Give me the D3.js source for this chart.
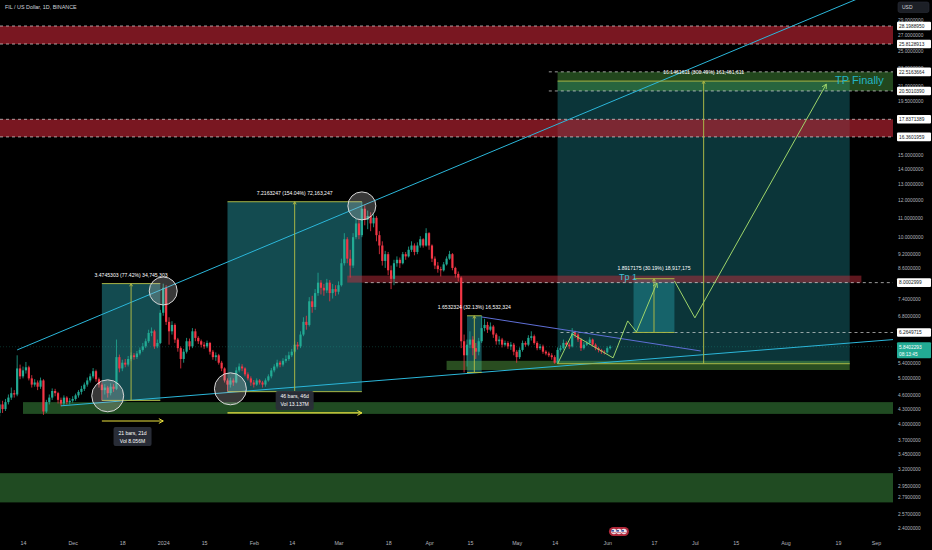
<!DOCTYPE html>
<html><head><meta charset="utf-8">
<script src="https://cdn.jsdelivr.net/npm/d3@7"></script>
<style>
html,body{margin:0;padding:0;background:#000;}
svg{display:block;}
text{font-family:"Liberation Sans", Arial, sans-serif;}
</style></head><body>
<svg id="c" width="932" height="550"></svg>
<script>
// ---------------- DATA ----------------
const title = "FIL / US Dollar, 1D, BINANCE";
const candleStart = "2023-11-06";
const firstOpen = 4.22;
const closes = [
 4.40,4.30,4.45,4.55,4.65,4.62,5.25,5.05,5.20,5.28,5.00,4.85,4.90,4.80,4.95,4.25,4.45,4.55,4.70,4.65,4.50,4.42,4.55,4.45,4.48,
 4.52,4.60,4.68,4.75,4.85,4.95,5.05,5.18,4.98,4.85,4.72,4.78,4.65,4.80,4.75,5.55,5.25,5.40,5.35,5.50,5.60,5.55,5.65,5.75,5.85,6.00,6.25,6.30,5.85,5.95,6.90,
 7.80,6.60,6.30,6.50,6.05,5.80,5.50,5.70,6.00,5.85,6.30,6.10,6.00,5.90,5.85,5.95,5.70,5.55,5.60,5.40,5.25,4.95,4.85,4.95,4.90,5.20,5.30,5.25,5.10,5.00,4.90,
 4.85,4.95,4.90,4.85,4.95,5.05,5.20,5.30,5.40,5.35,5.45,5.50,5.60,5.70,5.90,5.85,6.20,6.60,6.50,7.30,7.10,7.60,8.00,7.80,7.70,8.00,7.60,7.75,7.65,
 7.90,8.80,9.90,9.00,8.70,10.00,10.70,10.10,11.50,10.90,11.10,10.70,11.00,10.10,9.60,8.90,9.20,8.50,8.15,8.80,8.95,8.80,9.20,9.10,9.40,9.60,9.30,9.60,9.90,9.60,10.20,
 9.60,9.00,8.70,8.55,8.50,8.75,9.00,9.20,8.60,8.35,8.20,6.00,5.60,5.90,6.05,5.80,5.70,6.00,6.40,6.50,6.35,6.45,6.20,6.00,6.05,5.90,5.95,5.85,5.90,5.70,
 5.55,5.75,5.95,5.90,6.10,6.15,5.95,5.80,5.85,5.70,5.65,5.60,5.55,5.40,5.75,5.80,5.95,5.90,5.85,6.25,6.20,6.05,5.80,5.90,5.95,6.05,5.90,5.80,5.75,5.70,5.68,
 5.80,5.84];
const highs = [
 4.50,4.48,4.52,4.62,4.78,4.72,5.60,5.35,5.30,5.42,5.32,5.08,4.98,4.95,5.02,4.98,4.50,4.62,4.76,4.75,4.68,4.55,4.60,4.58,4.54,
 4.58,4.64,4.72,4.82,4.90,5.02,5.12,5.26,5.22,5.02,4.90,4.86,4.82,4.88,4.86,6.05,5.62,5.48,5.50,5.58,5.68,5.66,5.72,5.82,5.95,6.08,6.35,6.42,6.35,6.05,7.00,
 7.96,7.90,6.75,6.62,6.55,6.10,5.85,5.78,6.10,6.08,6.40,6.38,6.15,6.05,5.98,6.02,5.98,5.75,5.68,5.64,5.45,5.28,5.00,5.02,5.00,5.28,5.38,5.36,5.28,5.15,5.05,
 4.96,5.00,4.98,4.94,5.00,5.10,5.26,5.36,5.48,5.45,5.52,5.60,5.70,5.78,6.00,5.98,6.30,6.75,6.80,7.45,7.50,7.75,8.40,8.10,7.95,8.15,8.10,7.95,7.90,
 8.05,9.00,10.20,10.00,9.40,10.20,10.95,10.90,11.90,11.70,11.40,11.30,11.20,11.10,10.30,9.80,9.35,9.30,8.70,8.95,9.10,9.05,9.30,9.30,9.55,9.80,9.70,9.75,10.05,9.95,10.45,
 10.25,9.65,9.10,8.85,8.65,8.85,9.10,9.35,9.25,8.65,8.45,8.25,6.20,6.05,6.30,6.15,5.95,6.10,6.80,6.70,6.60,6.58,6.50,6.25,6.15,6.10,6.02,6.00,5.98,5.95,
 5.75,5.82,6.02,6.00,6.18,6.30,6.20,6.00,5.92,5.90,5.74,5.70,5.66,5.60,5.82,5.88,6.05,6.00,5.96,6.40,6.32,6.24,6.10,5.98,6.02,6.12,6.08,5.94,5.84,5.78,5.74,
 5.85,5.88];
const lows = [
 4.15,4.22,4.26,4.40,4.50,4.55,4.58,4.98,5.00,5.12,4.95,4.78,4.80,4.72,4.75,4.18,4.22,4.40,4.50,4.58,4.42,4.36,4.38,4.40,4.40,
 4.44,4.48,4.55,4.62,4.70,4.80,4.90,5.00,4.92,4.78,4.49,4.62,4.55,4.60,4.68,4.72,5.15,5.18,5.28,5.30,5.44,5.48,5.50,5.60,5.70,5.80,5.95,6.15,5.78,5.80,5.92,
 6.80,6.50,5.90,6.20,5.95,5.70,5.25,5.40,5.65,5.75,5.80,6.00,5.92,5.82,5.78,5.80,5.62,5.48,5.45,5.35,5.18,4.90,4.69,4.78,4.82,4.88,5.15,5.18,5.05,4.95,4.82,
 4.78,4.82,4.85,4.78,4.80,4.92,5.00,5.15,5.25,5.28,5.30,5.40,5.45,5.55,5.65,5.76,5.80,6.15,6.35,6.45,6.90,7.00,7.50,7.55,7.50,7.60,7.30,7.40,7.50,
 7.55,7.85,8.70,8.80,8.20,8.60,9.90,9.90,10.00,10.60,10.40,10.30,10.50,9.80,9.20,8.70,8.60,8.30,7.75,7.90,8.65,8.60,8.75,8.95,9.05,9.30,9.15,9.20,9.50,9.50,9.55,
 9.40,8.85,8.55,8.40,8.25,8.45,8.70,8.95,8.50,8.20,8.05,5.80,5.15,5.30,5.80,5.60,5.50,5.60,5.95,6.30,6.25,6.30,6.10,5.90,5.90,5.82,5.85,5.78,5.75,5.60,
 5.40,5.50,5.70,5.84,5.86,6.02,5.90,5.74,5.75,5.64,5.60,5.55,5.48,5.37,5.38,5.70,5.76,5.84,5.78,5.82,6.10,5.98,5.72,5.76,5.86,5.90,5.84,5.74,5.68,5.64,5.62,
 5.65,5.76];

const priceTicks = [29,27,25,23,21,19.5,15,14,13,12,11,10,9.2,8.6,7.4,6.8,5.4,5.0,4.6,4.3,4.0,3.7,3.45,3.2,2.95,2.79,2.57,2.4];
const dateTicks = [["2023-11-14","14"],["2023-12-01","Dec"],["2023-12-18","18"],["2024-01-01","2024"],["2024-01-15","15"],
 ["2024-02-01","Feb"],["2024-02-14","14"],["2024-03-01","Mar"],["2024-03-18","18"],["2024-04-01","Apr"],["2024-04-15","15"],
 ["2024-05-01","May"],["2024-05-14","14"],["2024-06-01","Jun"],["2024-06-17","17"],["2024-07-01","Jul"],["2024-07-15","15"],
 ["2024-08-01","Aug"],["2024-08-19","19"],["2024-09-01","Sep"]];
const levelLabels = [28.1988950,25.8128913,22.5163664,20.5010390,17.8371389,16.3601959,8.0002999,6.2649715];
const levelLineStarts = [null,null,"2024-05-12","2024-05-12",null,null,"2024-03-10","2024-05-16"];
const lastPrice = 5.8402293;
const countdown = "08:13:45";
const currency = "USD";

const redZones = [[28.1988950,25.8128913,null,null],[17.8371389,16.3601959,null,null],[8.28,8.0002999,"2024-03-04","2024-08-27"]];
const greenZones = [[5.45,5.21,"2024-04-07","2024-08-23"],[4.45,4.20,"2023-11-14",null],[3.14,2.72,null,null]];
const tpZone = [22.5163664,20.5010390,"2024-05-15",null];

const measureFrom = ["2023-12-11","2024-01-23","2024-04-14","2024-06-10","2024-05-15"];
const measureTo   = ["2023-12-31","2024-03-09","2024-04-19","2024-06-24","2024-08-23"];
const measureLow  = [4.4879,4.6847,5.1454,6.2649715,5.3733];
const measureHigh = [7.9624,11.9010,6.7986,8.1567,21.5195];
const measureText = ["3.4745303 (77.42%) 34,745,303","7.2163247 (154.04%) 72,163,247","1.6532324 (32.13%) 16,532,324",
                     "1.8917175 (30.19%) 18,917,175","16.1461611 (300.49%) 161,461,611"];

const rangeFrom = ["2023-12-11","2024-01-23"];
const rangeTo   = ["2024-01-01","2024-03-09"];
const rangePrice = [4.056,4.22];
const rangeLine1 = ["21 bars, 21d","46 bars, 46d"];
const rangeLine2 = ["Vol 8.056M","Vol 13.137M"];

const upperTrend = [["2023-11-12",5.75],["2024-03-09",11.66]];
const lowerTrend = [["2023-11-27",4.37],["2024-06-01",5.41]];
const descTrend  = [["2024-04-19",6.76],["2024-07-03",5.72]];
const circlePts  = [["2023-12-13",4.59],["2024-01-01",7.68],["2024-01-24",4.75],["2024-03-09",11.66]];
const projectionA = [["2024-05-15",5.37],["2024-05-20",6.22],["2024-06-03",5.53],["2024-06-08",6.63],["2024-06-11",6.28],["2024-06-18",7.99]];
const projectionB = [["2024-06-24",8.07],["2024-07-01",6.73],["2024-08-15",21.2]];
const noteTp1 = ["Tp 1","2024-06-05",8.1];
const noteTpFinal = ["TP Finally","2024-08-18",21.2];
const eventDate = "2024-06-05";

// ---------------- CHART ----------------
const svg = d3.select("#c");
const W = 932, H = 550, plotR = 893, plotB = 536;
const parse = d3.utcParse("%Y-%m-%d");
const DAY = 864e5;
const x = d3.scaleUtc().domain([parse("2023-11-14"), parse("2024-09-01")]).range([23, 876]);
const y = d3.scaleLog().domain([2.3064, 32.04]).range([plotB, 0]);
const X = s => s == null ? null : x(parse(s));

svg.append("rect").attr("width", W).attr("height", H).attr("fill", "#000");
svg.append("defs").append("clipPath").attr("id","clip").append("rect").attr("width", plotR).attr("height", plotB);
const g = svg.append("g").attr("clip-path","url(#clip)");

function zone(z, fill){
  const x0 = z[2] == null ? 0 : X(z[2]);
  const x1 = z[3] == null ? plotR : X(z[3]);
  g.append("rect").attr("x", x0).attr("width", x1 - x0)
    .attr("y", y(z[0])).attr("height", y(z[1]) - y(z[0])).attr("fill", fill);
}

// measure box fills
measureFrom.forEach((f,i)=>{
  const x0 = X(f), x1 = X(measureTo[i]);
  g.append("rect").attr("x", x0).attr("width", x1-x0)
    .attr("y", y(measureHigh[i])).attr("height", y(measureLow[i]) - y(measureHigh[i]))
    .attr("fill", i === 4 ? "rgba(30,140,150,0.38)" : "rgba(38,150,160,0.5)");
});

// zones
redZones.forEach((z,i)=> zone(z, i===2 ? "rgba(190,45,60,0.5)" : "rgba(178,34,48,0.68)"));
greenZones.forEach((z,i)=> zone(z, i===0 ? "rgba(90,170,70,0.45)" : "rgba(64,150,68,0.5)"));
zone(tpZone, "rgba(80,170,70,0.42)");

// current price line
g.append("line").attr("x1",0).attr("x2",plotR).attr("y1",y(lastPrice)).attr("y2",y(lastPrice))
  .attr("stroke","#22ab94").attr("stroke-opacity",0.35).attr("stroke-dasharray","1,2").attr("stroke-width",0.8);

// dashed level lines
levelLabels.forEach((v,i)=>{
  const x0 = levelLineStarts[i] ? X(levelLineStarts[i]) : 0;
  g.append("line").attr("x1",x0).attr("x2",plotR).attr("y1",y(v)).attr("y2",y(v))
    .attr("stroke","#e6e6e6").attr("stroke-width",0.8).attr("stroke-dasharray","3,3").attr("opacity",0.85);
});

// candles
const t0 = parse(candleStart);
const candles = closes.map((c,i)=>{
  const o = i ? closes[i-1] : firstOpen;
  return {d:new Date(+t0 + i*DAY), o, c, h:Math.max(highs[i],o,c), l:Math.min(lows[i],o,c)};
});
const cg = g.append("g");
candles.forEach(k=>{
  const col = k.c >= k.o ? "#22ab94" : "#f23645";
  const cx = x(k.d);
  cg.append("line").attr("x1",cx).attr("x2",cx).attr("y1",y(k.h)).attr("y2",y(k.l))
    .attr("stroke",col).attr("stroke-width",0.8);
  const top = y(Math.max(k.o,k.c)), bot = y(Math.min(k.o,k.c));
  cg.append("rect").attr("x",cx-1.1).attr("width",2.2).attr("y",top).attr("height",Math.max(0.8, bot-top)).attr("fill",col);
});

// trend lines
function ray(pts){
  const x1 = X(pts[0][0]), y1 = y(pts[0][1]), x2 = X(pts[1][0]), y2 = y(pts[1][1]);
  const s = (y2-y1)/(x2-x1);
  return [x1, y1, plotR+5, y1 + s*(plotR+5-x1)];
}
[upperTrend, lowerTrend].forEach(t=>{
  const r = ray(t);
  g.append("line").attr("x1",r[0]).attr("y1",r[1]).attr("x2",r[2]).attr("y2",r[3])
    .attr("stroke","#2bb7da").attr("stroke-width",1);
});
g.append("line").attr("x1",X(descTrend[0][0])).attr("y1",y(descTrend[0][1]))
  .attr("x2",X(descTrend[1][0])).attr("y2",y(descTrend[1][1]))
  .attr("stroke","#5f6fd6").attr("stroke-width",1);

// chevron helper
function chevron(sel, xa, ya, xb, yb, col, len){
  const a = Math.atan2(yb-ya, xb-xa);
  const p = [[xb - len*Math.cos(a-0.5), yb - len*Math.sin(a-0.5)],[xb,yb],[xb - len*Math.cos(a+0.5), yb - len*Math.sin(a+0.5)]];
  sel.append("path").attr("d", d3.line()(p)).attr("fill","none").attr("stroke",col).attr("stroke-width",1);
}

// measure borders, arrows, labels
const olive = "#a9b646";
measureFrom.forEach((f,i)=>{
  const x0 = X(f), x1 = X(measureTo[i]), xm = (x0+x1)/2;
  const yt = y(measureHigh[i]), yb = y(measureLow[i]);
  g.append("line").attr("x1",x0).attr("x2",x1).attr("y1",yt).attr("y2",yt).attr("stroke",olive).attr("stroke-width",1);
  g.append("line").attr("x1",x0).attr("x2",x1).attr("y1",yb).attr("y2",yb).attr("stroke",olive).attr("stroke-width",1);
  g.append("line").attr("x1",xm).attr("x2",xm).attr("y1",yb).attr("y2",yt).attr("stroke",olive).attr("stroke-width",1);
  chevron(g, xm, yb, xm, yt, olive, 3);
  g.append("text").attr("x",xm).attr("y",yt-(i===3 ? 9 : 7)).attr("text-anchor","middle")
    .attr("font-size",5.1).attr("fill","#ffffff").text(measureText[i]);
});

// notes
g.append("text").attr("x",X(noteTp1[1])).attr("y",y(noteTp1[2])).attr("font-size",9).attr("fill","#3cc0d6").text(noteTp1[0]);
g.append("text").attr("x",X(noteTpFinal[1])).attr("y",y(noteTpFinal[2])).attr("font-size",11).attr("fill","#24b4c4").text(noteTpFinal[0]);

// projections
const proj = d3.line().x(p=>X(p[0])).y(p=>y(p[1]));
[projectionA, projectionB].forEach(pr=>{
  g.append("path").attr("d", proj(pr)).attr("fill","none").attr("stroke","#9ed46a").attr("stroke-width",1);
  const a = pr[pr.length-2], b = pr[pr.length-1];
  chevron(g, X(a[0]), y(a[1]), X(b[0]), y(b[1]), "#9ed46a", 5);
});

// circles
circlePts.forEach((c,i)=>{
  g.append("circle").attr("cx",X(c[0])).attr("cy",y(c[1])).attr("r", (i%2===0) ? 16 : 14)
    .attr("fill","rgba(200,200,200,0.28)").attr("stroke","#d8d8d8").attr("stroke-width",1);
});

// date ranges
rangeFrom.forEach((f,i)=>{
  const x0 = X(f), x1 = X(rangeTo[i]), yy = y(rangePrice[i]), xm = (x0+x1)/2;
  g.append("line").attr("x1",x0).attr("x2",x1).attr("y1",yy).attr("y2",yy).attr("stroke","#ece23e").attr("stroke-width",1.2);
  chevron(g, x0, yy, x1, yy, "#ece23e", 5);
  const by = i===0 ? yy+6 : yy-22;
  g.append("rect").attr("x",xm-19).attr("y",by).attr("width",38).attr("height",19).attr("rx",2).attr("fill","rgba(42,46,57,0.95)");
  g.append("text").attr("x",xm).attr("y",by+7.5).attr("text-anchor","middle").attr("font-size",5.1).attr("fill","#fff").text(rangeLine1[i]);
  g.append("text").attr("x",xm).attr("y",by+15.5).attr("text-anchor","middle").attr("font-size",5.1).attr("fill","#fff").text(rangeLine2[i]);
});

// title
svg.append("text").attr("x",5).attr("y",9).attr("font-size",5.4).attr("fill","#d1d4dc").text(title);

// event marker
const ex = X(eventDate);
const ev = svg.append("g");
ev.append("rect").attr("x",ex-10).attr("y",527).attr("width",20).attr("height",9).attr("rx",4.5).attr("fill","#b0283a");
[-5,0,5].forEach(o=>{
  ev.append("circle").attr("cx",ex+o).attr("cy",531.5).attr("r",2.8).attr("fill","#e9e6ee");
  ev.append("rect").attr("x",ex+o-2.6).attr("y",530).attr("width",2.6).attr("height",1.6).attr("fill","#3c4f9a");
  ev.append("line").attr("x1",ex+o-2).attr("x2",ex+o+2.4).attr("y1",532.6).attr("y2",532.6).attr("stroke","#c83240").attr("stroke-width",0.6);
});

// axes
const ya = svg.append("g").attr("transform",`translate(${plotR},0)`)
  .call(d3.axisRight(y).tickValues(priceTicks).tickFormat(d=>d.toFixed(7)).tickSize(0).tickPadding(5));
ya.select(".domain").remove();
ya.selectAll("text").attr("font-size",4.8).attr("fill","#b2b5be").attr("font-family","Liberation Sans, Arial, sans-serif");

const xa = svg.append("g").attr("transform",`translate(0,${plotB})`)
  .call(d3.axisBottom(x).tickValues(dateTicks.map(d=>parse(d[0]))).tickFormat((d,i)=>dateTicks[i][1]).tickSize(0).tickPadding(5));
xa.select(".domain").remove();
xa.selectAll("text").attr("font-size",5.3).attr("fill","#b2b5be").attr("font-family","Liberation Sans, Arial, sans-serif");

// level labels on axis
levelLabels.forEach(v=>{
  const yy = y(v);
  svg.append("rect").attr("x",897).attr("y",yy-4.3).attr("width",34).attr("height",8.6).attr("rx",1).attr("fill","#ffffff");
  svg.append("text").attr("x",899).attr("y",yy+1.8).attr("font-size",4.8).attr("fill","#131722").text(v.toFixed(7));
});
// last price label
const ly = y(lastPrice);
svg.append("rect").attr("x",897).attr("y",ly-4.5).attr("width",34).attr("height",16).attr("rx",1).attr("fill","#22ab94");
svg.append("text").attr("x",899).attr("y",ly+1.8).attr("font-size",4.8).attr("fill","#fff").text(lastPrice.toFixed(7));
svg.append("text").attr("x",899).attr("y",ly+9).attr("font-size",4.8).attr("fill","#fff").text(countdown);

// currency button
svg.append("rect").attr("x",898).attr("y",2).attr("width",31).attr("height",10.5).attr("rx",2).attr("fill","#1c1f26").attr("stroke","#2a2e39").attr("stroke-width",0.6);
svg.append("text").attr("x",902).attr("y",9).attr("font-size",5).attr("fill","#d1d4dc").text(currency);
</script>
</body></html>
